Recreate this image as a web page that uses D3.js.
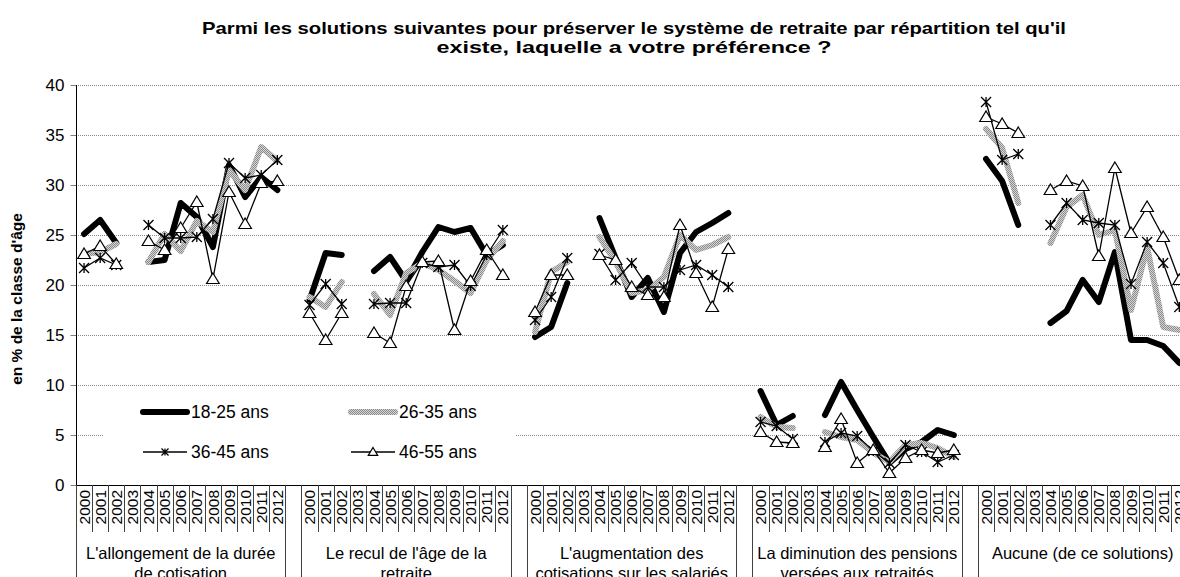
<!DOCTYPE html>
<html>
<head>
<meta charset="utf-8">
<script src="https://cdn.jsdelivr.net/npm/d3@7"></script>
<style>
  body { margin: 0; background: #fff; }
  text { font-family: "Liberation Sans", Arial, sans-serif; fill: #000; }
</style>
</head>
<body>
<div id="box1"></div>
<script>
var years = ["2000", "2001", "2002", "2003", "2004", "2005", "2006", "2007", "2008", "2009", "2010", "2011", "2012"];
var groups = [
  ["L'allongement de la durée", "de cotisation"],
  ["Le recul de l'âge de la", "retraite"],
  ["L'augmentation des", "cotisations sur les salariés"],
  ["La diminution des pensions", "versées aux retraités"],
  ["Aucune (de ce solutions)", ""]
];
var yTicks = [0, 5, 10, 15, 20, 25, 30, 35, 40];
var seriesNames = ["18-25 ans", "26-35 ans", "36-45 ans", "46-55 ans"];

// one row per group, one value per year (2003 missing)
var s1825 = [
  [25.1, 26.5, 24.2, null, 22.3, 22.5, 28.2, 26.8, 23.8, 32.0, 28.8, 30.8, 29.5],
  [18.5, 23.2, 23.0, null, 21.4, 22.8, 20.4, 23.3, 25.8, 25.3, 25.7, 23.0, 24.0],
  [14.8, 15.8, 20.2, null, 26.7, 22.7, 18.8, 20.7, 17.3, 23.2, 25.3, 26.2, 27.2],
  [9.4, 6.0, 6.9, null, 7.0, 10.3, 7.5, 4.8, 2.2, 3.6, 4.3, 5.5, 5.0],
  [32.6, 30.4, 26.0, null, 16.2, 17.4, 20.5, 18.3, 23.3, 14.5, 14.5, 13.9, 12.2]
];
var s2635 = [
  [23.1, 23.3, 24.1, null, 22.3, 25.1, 23.4, 26.4, 25.3, 31.5, 29.5, 33.8, 32.4],
  [18.8, 17.8, 20.3, null, 19.1, 17.0, 21.2, 22.2, 21.5, 20.4, 19.2, 22.5, 24.4],
  [15.3, 21.3, 22.3, null, 24.8, 22.3, 19.2, 19.5, 20.8, 25.0, 23.5, 24.0, 24.8],
  [6.8, 5.8, 5.7, null, 5.3, 4.8, 4.5, 3.2, 2.3, 4.0, 4.2, 3.7, 2.8],
  [35.6, 33.7, 28.2, null, 24.2, 27.8, 29.0, 25.0, 25.5, 17.5, 23.8, 15.8, 15.5]
];
var s3645 = [
  [21.7, 22.7, 22.0, null, 26.0, 24.7, 24.7, 24.8, 26.6, 32.2, 30.7, 31.0, 32.5],
  [18.0, 20.1, 18.1, null, 18.1, 18.2, 18.2, 22.2, 21.8, 22.0, 19.9, 23.0, 25.5],
  [16.5, 18.8, 22.7, null, 23.1, 20.5, 22.2, 19.8, 19.8, 21.5, 22.0, 21.0, 19.8],
  [6.3, 5.9, 4.6, null, 4.3, 5.2, 4.9, 3.4, 2.2, 4.0, 3.3, 2.3, 3.0],
  [38.3, 32.5, 33.1, null, 26.0, 28.2, 26.5, 26.2, 26.0, 20.1, 24.3, 22.2, 17.8]
];
var s4655 = [
  [23.1, 23.9, 22.1, null, 24.4, 23.5, 25.7, 28.3, 20.6, 29.3, 26.1, 30.2, 30.4],
  [17.2, 14.5, 17.2, null, 15.2, 14.2, 19.9, 22.3, 22.4, 15.5, 20.4, 23.5, 21.0],
  [17.3, 21.0, 21.0, null, 23.0, 22.5, 19.8, 19.0, 18.8, 26.0, 21.2, 17.8, 23.6],
  [5.3, 4.3, 4.2, null, 3.8, 6.6, 2.2, 3.5, 1.2, 2.7, 3.5, 3.2, 3.5],
  [36.8, 36.1, 35.2, null, 29.5, 30.4, 29.9, 22.9, 31.7, 25.2, 27.8, 24.8, 20.5]
];

document.addEventListener("DOMContentLoaded", function(e) {
  chart([s1825, s2635, s3645, s4655]);
});

function starPath(x, y, r) {
  return "M" + x + "," + (y - r) + "L" + x + "," + (y + r) +
    "M" + (x - r) + "," + (y - r) + "L" + (x + r) + "," + (y + r) +
    "M" + (x - r) + "," + (y + r) + "L" + (x + r) + "," + (y - r);
}

function triPath(x, y, r) {
  return "M" + x + "," + (y - r) + "L" + (x + r * 1.05) + "," + (y + r * 0.75) +
    "L" + (x - r * 1.05) + "," + (y + r * 0.75) + "Z";
}

function chart(allSeries) {
  var width = 1180;
  var height = 577;
  var left = 76, top = 85, bottom = 485;
  var cell = 16.107;

  // categories: 13 years per group, one blank slot between groups
  var cats = [];
  groups.forEach(function(g, gi) {
    years.forEach(function(y) { cats.push(gi + "-" + y); });
    if (gi < groups.length - 1) cats.push("blank-" + gi);
  });

  var x = d3.scaleBand().domain(cats).range([left, left + cats.length * cell]).padding(0);
  var y = d3.scaleLinear().domain([0, 40]).range([bottom, top]);

  var svg = d3.select("#box1").append("svg")
    .attr("width", width)
    .attr("height", height);

  var defs = svg.append("defs");
  var pat = defs.append("pattern")
    .attr("id", "grayPat")
    .attr("patternUnits", "userSpaceOnUse")
    .attr("width", 2).attr("height", 2);
  pat.append("rect").attr("width", 2).attr("height", 2).attr("fill", "#d4d4d4");
  pat.append("rect").attr("width", 1).attr("height", 1).attr("fill", "#8c8c8c");
  pat.append("rect").attr("x", 1).attr("y", 1).attr("width", 1).attr("height", 1).attr("fill", "#8c8c8c");

  // title (the source is stretched sideways, so fit the width)
  var title = svg.append("text")
    .attr("text-anchor", "middle")
    .attr("font-weight", "bold")
    .attr("font-size", 17);
  title.append("tspan").attr("x", 634).attr("y", 34)
    .attr("textLength", 864).attr("lengthAdjust", "spacingAndGlyphs")
    .text("Parmi les solutions suivantes pour préserver le système de retraite par répartition tel qu'il");
  title.append("tspan").attr("x", 634).attr("y", 53)
    .attr("textLength", 395).attr("lengthAdjust", "spacingAndGlyphs")
    .text("existe, laquelle a votre préférence ?");

  // gridlines
  svg.append("g").selectAll("line")
    .data(yTicks.filter(function(d) { return d > 0; }))
    .enter().append("line")
    .attr("x1", left).attr("x2", width)
    .attr("y1", function(d) { return y(d) + 0.5; })
    .attr("y2", function(d) { return y(d) + 0.5; })
    .attr("stroke", "#8a8a8a")
    .attr("stroke-dasharray", "1,1");

  // y axis
  var yAxis = svg.append("g")
    .attr("transform", "translate(" + (left + 0.5) + ",0)")
    .call(d3.axisLeft(y).tickValues(yTicks).tickSize(6).tickPadding(6));
  yAxis.select(".domain").remove();
  yAxis.selectAll(".tick line").attr("stroke", "#808080");
  yAxis.selectAll("text")
    .attr("font-size", 17)
    .attr("font-family", "Liberation Sans, Arial, sans-serif");
  svg.append("line")
    .attr("x1", left + 0.5).attr("x2", left + 0.5)
    .attr("y1", top).attr("y2", height)
    .attr("stroke", "#000");

  svg.append("text")
    .attr("transform", "translate(22,299) rotate(-90)")
    .attr("text-anchor", "middle")
    .attr("font-weight", "bold")
    .attr("font-size", 15.5)
    .text("en % de la classe d'âge");

  // x axis
  svg.append("line")
    .attr("x1", left).attr("x2", width)
    .attr("y1", bottom + 0.5).attr("y2", bottom + 0.5)
    .attr("stroke", "#000");

  var xg = svg.append("g");
  cats.forEach(function(c, i) {
    var parts = c.split("-");
    if (parts[0] == "blank") {
      return;
    }
    var x0 = Math.round(x(c)) + 0.5;
    var x1 = Math.round(x(c) + x.bandwidth()) + 0.5;
    var first = parts[1] == years[0];
    var last = parts[1] == years[years.length - 1];
    xg.append("line")
      .attr("x1", x0).attr("x2", x0)
      .attr("y1", bottom).attr("y2", first ? height : 532)
      .attr("stroke", "#404040");
    if (last) {
      xg.append("line")
        .attr("x1", x1).attr("x2", x1)
        .attr("y1", bottom).attr("y2", height)
        .attr("stroke", "#404040");
    }
    xg.append("text")
      .attr("transform", "translate(" + (x(c) + x.bandwidth() / 2) + "," + (bottom + 5) + ") rotate(-90)")
      .attr("text-anchor", "end")
      .attr("dy", "0.36em")
      .attr("font-size", 15.5)
      .text(parts[1]);
  });

  groups.forEach(function(g, gi) {
    var cx = x(gi + "-" + years[0]) + (x.bandwidth() * years.length) / 2;
    var t = xg.append("text")
      .attr("text-anchor", "middle")
      .attr("font-size", 16.5);
    t.append("tspan").attr("x", cx).attr("y", 559).text(g[0]);
    t.append("tspan").attr("x", cx).attr("y", 579).text(g[1]);
  });

  // series as flat lists over all categories
  function flat(s) {
    return cats.map(function(c) {
      var parts = c.split("-");
      if (parts[0] == "blank") return {c: c, v: null};
      return {c: c, v: s[+parts[0]][years.indexOf(parts[1])]};
    });
  }

  var line = d3.line()
    .defined(function(d) { return d.v != null; })
    .x(function(d) { return x(d.c) + x.bandwidth() / 2; })
    .y(function(d) { return y(d.v); });

  var styles = [
    {stroke: "#000", width: 6},
    {stroke: "url(#grayPat)", width: 6},
    {stroke: "#000", width: 1.3},
    {stroke: "#000", width: 1.3}
  ];

  // legend box sits under the lines
  svg.append("rect")
    .attr("x", 104).attr("y", 392)
    .attr("width", 412).attr("height", 86)
    .attr("fill", "#fff");

  var plot = svg.append("g");
  allSeries.forEach(function(s, si) {
    var pts = flat(s);
    plot.append("path")
      .datum(pts)
      .attr("d", line)
      .attr("fill", "none")
      .attr("stroke", styles[si].stroke)
      .attr("stroke-width", styles[si].width)
      .attr("stroke-linejoin", si < 2 ? "round" : "miter")
      .attr("stroke-linecap", si < 2 ? "round" : "butt");

    var valid = pts.filter(function(d) { return d.v != null; });
    if (si == 2) {
      plot.append("g").selectAll("path")
        .data(valid).enter().append("path")
        .attr("d", function(d) { return starPath(x(d.c) + x.bandwidth() / 2, y(d.v), 5); })
        .attr("stroke", "#000")
        .attr("stroke-width", 1.3);
    }
    if (si == 3) {
      plot.append("g").selectAll("path")
        .data(valid).enter().append("path")
        .attr("d", function(d) { return triPath(x(d.c) + x.bandwidth() / 2, y(d.v), 6); })
        .attr("fill", "#fff")
        .attr("stroke", "#000")
        .attr("stroke-width", 1.2);
    }
  });

  // legend
  var legPos = [[143, 412], [351, 412], [143, 452], [351, 452]];
  seriesNames.forEach(function(name, si) {
    var lx = legPos[si][0], ly = legPos[si][1];
    svg.append("line")
      .attr("x1", lx).attr("x2", lx + 44)
      .attr("y1", ly).attr("y2", ly)
      .attr("stroke", styles[si].stroke)
      .attr("stroke-width", styles[si].width)
      .attr("stroke-linecap", si < 2 ? "round" : "butt");
    if (si == 2) {
      svg.append("path").attr("d", starPath(lx + 22, ly, 3.5))
        .attr("stroke", "#000").attr("stroke-width", 1.2);
    }
    if (si == 3) {
      svg.append("path").attr("d", triPath(lx + 22, ly, 4.5))
        .attr("fill", "#fff").attr("stroke", "#000").attr("stroke-width", 1.2);
    }
    svg.append("text")
      .attr("x", lx + 48).attr("y", ly + 6)
      .attr("font-size", 17.5)
      .text(name);
  });
}
</script>
</body>
</html>
